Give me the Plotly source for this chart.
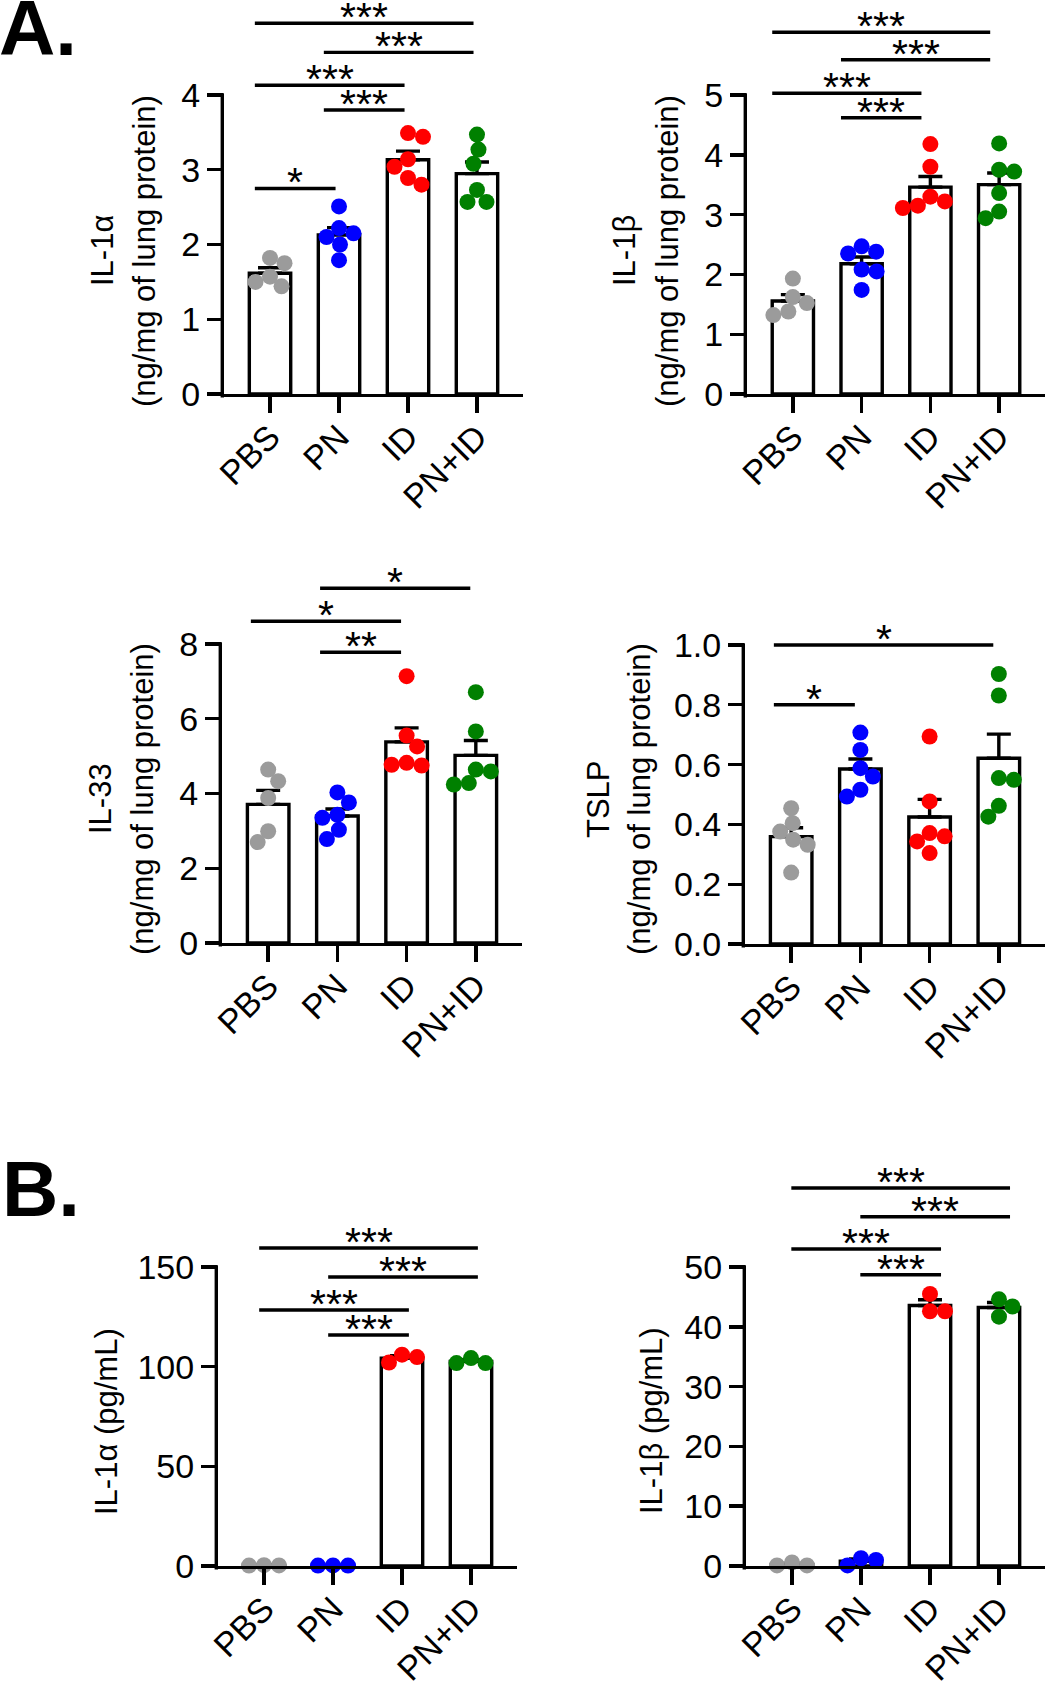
import numpy as np
import plotly.graph_objects as go

W, H = 1047, 1682
FONT = "Liberation Sans, Arial, sans-serif"

groups = ["PBS", "PN", "ID", "PN+ID"]
group_colors = ["#9B9B9B", "#0000FF", "#FF0000", "#008000"]

# ---- data ----
il1a_lung = [[1.82, 1.75, 1.57, 1.50, 1.44],
             [2.51, 2.22, 2.15, 2.10, 2.00, 1.79],
             [3.49, 3.44, 3.14, 3.04, 2.89, 2.80],
             [3.47, 3.27, 3.08, 2.73, 2.57, 2.57]]
il1b_lung = [[1.93, 1.62, 1.52, 1.38, 1.32],
             [2.47, 2.38, 2.35, 2.08, 2.05, 1.74],
             [4.18, 3.80, 3.30, 3.22, 3.15, 3.11],
             [4.19, 3.75, 3.72, 3.36, 3.05, 2.94]]
il33_lung = [[4.64, 4.33, 3.88, 2.99, 2.70],
             [4.03, 3.76, 3.43, 3.35, 3.03, 2.78],
             [7.14, 5.55, 5.26, 4.82, 4.77, 4.75],
             [6.71, 5.66, 4.64, 4.59, 4.28, 4.24]]
tslp_lung = [[0.454, 0.404, 0.376, 0.349, 0.332, 0.239],
             [0.707, 0.649, 0.588, 0.560, 0.516, 0.493],
             [0.694, 0.477, 0.371, 0.360, 0.343, 0.304],
             [0.903, 0.831, 0.555, 0.549, 0.462, 0.426]]
il1a_cells = [[0.3, 0.4, 0.2],
              [0.2, 0.3, 0.2],
              [102.1, 106.0, 104.8],
              [101.8, 104.3, 101.8]]
il1b_cells = [[0.1, 0.6, 0.1],
              [0.1, 1.3, 1.0],
              [45.5, 42.6, 42.6],
              [44.6, 43.4, 41.7]]

# significance: (group i, group j, height in data units, label)
sig_il1a_lung = [(0, 3, 4.96, "***"), (1, 3, 4.57, "***"), (0, 2, 4.13, "***"),
                 (1, 2, 3.80, "***"), (0, 1, 2.75, "*")]
sig_il1b_lung = [(0, 3, 6.05, "***"), (1, 3, 5.59, "***"), (0, 2, 5.03, "***"),
                 (1, 2, 4.62, "***")]
sig_il33_lung = [(1, 3, 9.49, "*"), (0, 2, 8.61, "*"), (1, 2, 7.78, "**")]
sig_tslp_lung = [(0, 3, 1.00, "*"), (0, 1, 0.80, "*")]
sig_il1a_cells = [(0, 3, 159.5, "***"), (1, 3, 145.0, "***"), (0, 2, 128.4, "***"),
                  (1, 2, 115.9, "***")]
sig_il1b_cells = [(0, 3, 63.2, "***"), (1, 3, 58.4, "***"), (0, 2, 53.0, "***"),
                  (1, 2, 48.7, "***")]

ticks_il1a_lung = [0, 1, 2, 3, 4]
ticks_il1b_lung = [0, 1, 2, 3, 4, 5]
ticks_il33_lung = [0, 2, 4, 6, 8]
ticks_tslp_lung = [0, 0.2, 0.4, 0.6, 0.8, 1.0]
ticks_il1a_cells = [0, 50, 100, 150]
ticks_il1b_cells = [0, 10, 20, 30, 40, 50]

# ---- layout spec (pixel geometry) ----
panels = [
    dict(data=il1a_lung, sig=sig_il1a_lung, ticks=ticks_il1a_lung, fmt="",
         x0=224, x1=523, yz=394, ytp=95, ytop=2, shift=-0.22,
         title=["IL-1α", "(ng/mg of lung protein)"], tx=[102, 144], ty=251),
    dict(data=il1b_lung, sig=sig_il1b_lung, ticks=ticks_il1b_lung, fmt="",
         x0=747, x1=1045, yz=394, ytp=95, ytop=2, shift=-0.30,
         title=["IL-1β", "(ng/mg of lung protein)"], tx=[624, 667], ty=251),
    dict(data=il33_lung, sig=sig_il33_lung, ticks=ticks_il33_lung, fmt="",
         x0=222, x1=522, yz=943, ytp=644, ytop=560, shift=-0.25,
         title=["IL-33", "(ng/mg of lung protein)"], tx=[100, 142], ty=799),
    dict(data=tslp_lung, sig=sig_tslp_lung, ticks=ticks_tslp_lung, fmt=".1f",
         x0=745, x1=1045, yz=944, ytp=645, ytop=560, shift=-0.25,
         title=["TSLP", "(ng/mg of lung protein)"], tx=[598, 639], ty=799),
    dict(data=il1a_cells, sig=sig_il1a_cells, ticks=ticks_il1a_cells, fmt="",
         x0=218, x1=517, yz=1566, ytp=1267, ytop=1160, shift=-0.07,
         title=["IL-1α (pg/mL)"], tx=[106], ty=1422),
    dict(data=il1b_cells, sig=sig_il1b_cells, ticks=ticks_il1b_cells, fmt="",
         x0=746, x1=1045, yz=1566, ytp=1267, ytop=1160, shift=-0.01,
         title=["IL-1β (pg/mL)"], tx=[651], ty=1421),
]

XR = [-0.667, 3.667]
DOT = 16
SWARM_D = 15.0
LW = 3.4
TICKFS = 34


def swarm(vals, ppx, ppy, d):
    order = np.argsort(-np.asarray(vals), kind="stable")
    placed = []
    offs = np.zeros(len(vals))
    side = 1
    for idx in order:
        y = vals[idx] * ppy
        cands = [0.0]
        for k in range(1, 200):
            cands += [side * k * 0.5, -side * k * 0.5]
        for c in cands:
            if all((c - px) ** 2 + (y - py) ** 2 >= d * d for px, py in placed):
                break
        if c != 0:
            side = -1 if c > 0 else 1
        placed.append((c, y))
        offs[idx] = c / ppx
    return offs


fig = go.Figure()
shapes, annos = [], []

for k, p in enumerate(panels, start=1):
    xa = "x" if k == 1 else f"x{k}"
    ya = "y" if k == 1 else f"y{k}"
    ppy = (p["yz"] - p["ytp"]) / p["ticks"][-1]
    ppx = (p["x1"] - p["x0"]) / (XR[1] - XR[0])
    ytop_val = (p["yz"] - p["ytop"]) / ppy
    xdom = [p["x0"] / W, p["x1"] / W]
    ydom = [(H - p["yz"]) / H, (H - p["ytop"]) / H]

    means = [float(np.mean(v)) for v in p["data"]]
    sems = [float(np.std(v, ddof=1) / np.sqrt(len(v))) for v in p["data"]]

    fig.add_trace(go.Bar(x=list(range(4)), y=means, width=0.6, xaxis=xa, yaxis=ya,
                         marker=dict(color="white", line=dict(color="black", width=LW)),
                         showlegend=False, hoverinfo="skip"))
    fig.add_trace(go.Scatter(x=list(range(4)), y=means, mode="markers", xaxis=xa, yaxis=ya,
                             marker=dict(size=1, color="rgba(0,0,0,0)"),
                             error_y=dict(type="data", array=sems, arrayminus=[0] * 4,
                                          symmetric=False, width=12, thickness=LW,
                                          color="black"),
                             showlegend=False, hoverinfo="skip"))
    xs, ys, cs = [], [], []
    for g, vals in enumerate(p["data"]):
        offs = swarm(vals, ppx, ppy, SWARM_D)
        for v, o in zip(vals, offs):
            xs.append(g + o)
            ys.append(v)
            cs.append(group_colors[g])
    fig.add_trace(go.Scatter(x=xs, y=ys, mode="markers", xaxis=xa, yaxis=ya,
                             marker=dict(size=DOT, color=cs, line=dict(width=0)),
                             showlegend=False, cliponaxis=False))

    axkey = "xaxis" if k == 1 else f"xaxis{k}"
    aykey = "yaxis" if k == 1 else f"yaxis{k}"
    fig.update_layout({
        axkey: dict(domain=xdom, range=XR, anchor=ya, tickvals=list(range(4)),
                    ticktext=groups, tickangle=-45, showline=True, linewidth=LW,
                    linecolor="black", ticks="outside", ticklen=16, tickwidth=LW,
                    tickcolor="black", showgrid=False, zeroline=False, automargin=False,
                    ticklabelstandoff=-10,
                    tickfont=dict(family=FONT, size=TICKFS, color="black")),
        aykey: dict(domain=ydom, range=[0, ytop_val], anchor=xa, tickvals=p["ticks"],
                    tickformat=p["fmt"], showline=False, ticks="outside", ticklen=16,
                    tickwidth=LW, tickcolor="black", showgrid=False, zeroline=False,
                    automargin=False,
                    tickfont=dict(family=FONT, size=TICKFS, color="black")),
    })
    # y axis line (only up to the last tick)
    shapes.append(dict(type="line", xref="paper", yref="paper",
                       x0=(p["x0"] - LW / 2) / W, x1=(p["x0"] - LW / 2) / W,
                       y0=(H - p["yz"] - LW) / H, y1=(H - p["ytp"] + LW / 2) / H,
                       line=dict(color="black", width=LW)))
    # significance bars
    for (i, j, h, lab) in p["sig"]:
        xa0 = i + p["shift"]
        xa1 = j + p["shift"] + 0.17
        shapes.append(dict(type="line", xref=xa, yref=ya, x0=xa0, x1=xa1, y0=h, y1=h,
                           line=dict(color="black", width=LW)))
        annos.append(dict(xref=xa, yref=ya, x=(xa0 + xa1) / 2, y=h, text=lab,
                          showarrow=False, xanchor="center", yanchor="middle", yshift=6,
                          font=dict(family=FONT, size=41, color="black")))
    # axis titles
    for t, tx in zip(p["title"], p["tx"]):
        annos.append(dict(xref="paper", yref="paper", x=tx / W, y=(H - p["ty"]) / H,
                          text=t, textangle=-90, showarrow=False, xanchor="center",
                          yanchor="middle", font=dict(family=FONT, size=31, color="black")))

annos.append(dict(xref="paper", yref="paper", x=0, y=1, text="<b>A.</b>", showarrow=False,
                  xanchor="left", yanchor="top", yshift=18, xshift=-3,
                  font=dict(family=FONT, size=78, color="black")))
annos.append(dict(xref="paper", yref="paper", x=0, y=(H - 1163) / H, text="<b>B.</b>",
                  showarrow=False, xanchor="left", yanchor="top", yshift=20, xshift=0,
                  font=dict(family=FONT, size=78, color="black")))

fig.update_layout(width=W, height=H, margin=dict(l=0, r=0, t=0, b=0, autoexpand=False),
                  paper_bgcolor="white", plot_bgcolor="white", showlegend=False,
                  shapes=shapes, annotations=annos, bargap=0, hovermode=False,
                  font=dict(family=FONT, color="black"))
fig.write_html("out.html", config={"displayModeBar": False, "staticPlot": True},
               post_script="document.body.style.margin='0';document.body.style.overflow='hidden';")
